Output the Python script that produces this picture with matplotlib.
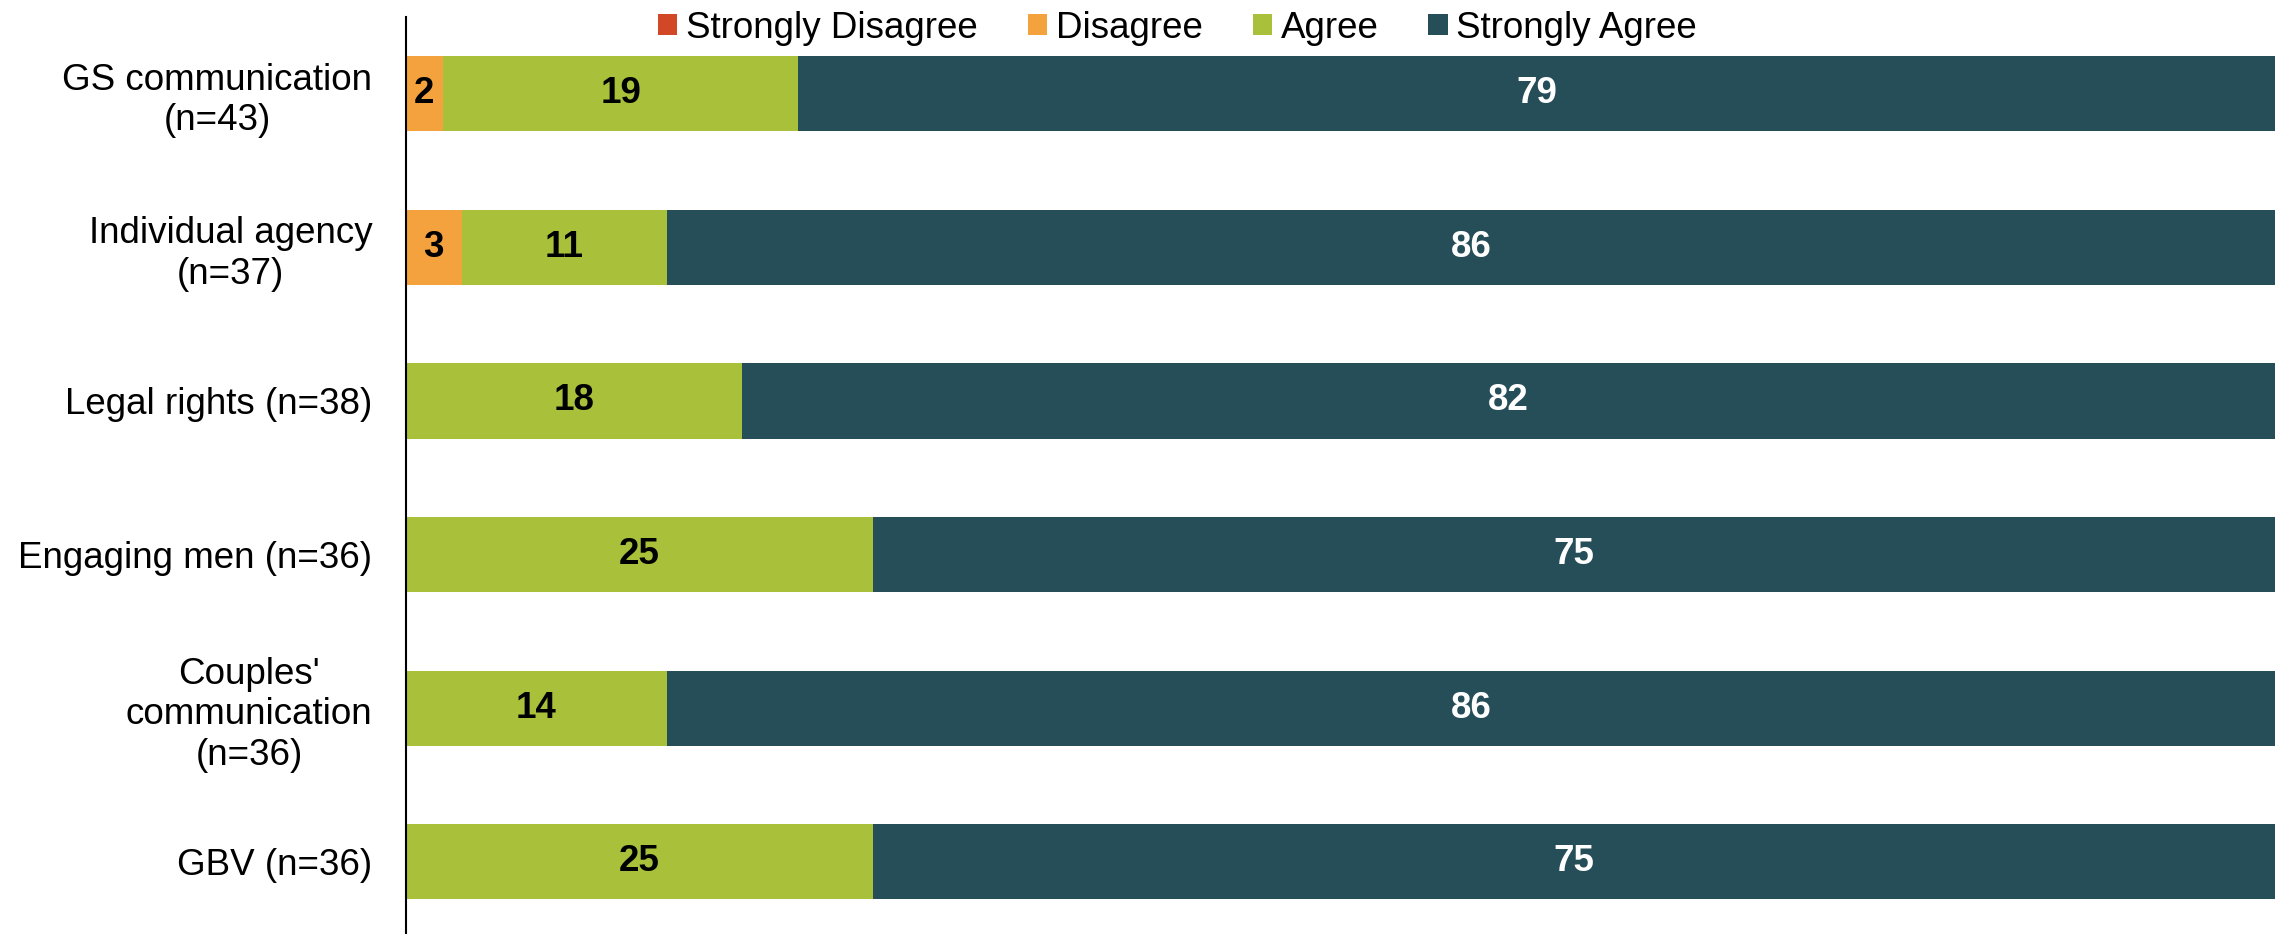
import numpy as np
import matplotlib
matplotlib.use("Agg")
import matplotlib.pyplot as plt

plt.rcParams['font.family'] = ['Liberation Sans', 'DejaVu Sans']

topics = ["GS communication\n(n=43)", "Individual agency\n(n=37)", "Legal rights (n=38)",
          "Engaging men (n=36)", "Couples'\ncommunication\n(n=36)", "GBV (n=36)"]
responses = ["Strongly Disagree", "Disagree", "Agree", "Strongly Agree"]

strongly_disagree = [0, 0, 0, 0, 0, 0]
disagree = [2, 3, 0, 0, 0, 0]
agree = [19, 11, 18, 25, 14, 25]
strongly_agree = [79, 86, 82, 75, 86, 75]

colors = ["#D24726", "#F4A23D", "#A9C03A", "#264E59"]
label_colors = ["black", "black", "black", "white"]

fig = plt.figure(figsize=(22.79, 9.34), dpi=100)
ax = fig.add_axes([0.178, 0.0, 0.8203, 0.982])

y = np.arange(len(topics))
left = np.zeros(len(topics))
for name, vals, col, lcol in zip(responses, [strongly_disagree, disagree, agree, strongly_agree],
                                 colors, label_colors):
    vals = np.array(vals)
    bars = ax.barh(y, vals, left=left, height=0.49, color=col, label=name)
    # value labels, skip empty segments
    for b, v in zip(bars, vals):
        if v > 0:
            ax.text(b.get_x() + b.get_width() / 2, b.get_y() + b.get_height() / 2, str(v),
                    ha="center", va="center", fontsize=26.5, fontweight="bold", color=lcol)
    left += vals

ax.set_xlim(0, 100)
ax.set_ylim(5.47, -0.5)
ax.set_yticks(y)
ax.set_yticklabels(topics, fontsize=26.5, multialignment="center")
ax.tick_params(axis="y", length=0, pad=24)
ax.set_xticks([])
for s in ["top", "right", "bottom"]:
    ax.spines[s].set_visible(False)
ax.spines["left"].set_linewidth(1.5)

fig.legend(loc="center", bbox_to_anchor=(0.5167, 0.970), ncol=4, frameon=False,
           fontsize=26.5, handlelength=0.52, handleheight=0.52, handletextpad=0.24,
           columnspacing=1.36, borderpad=0)

fig.savefig("out.png", dpi=100)
